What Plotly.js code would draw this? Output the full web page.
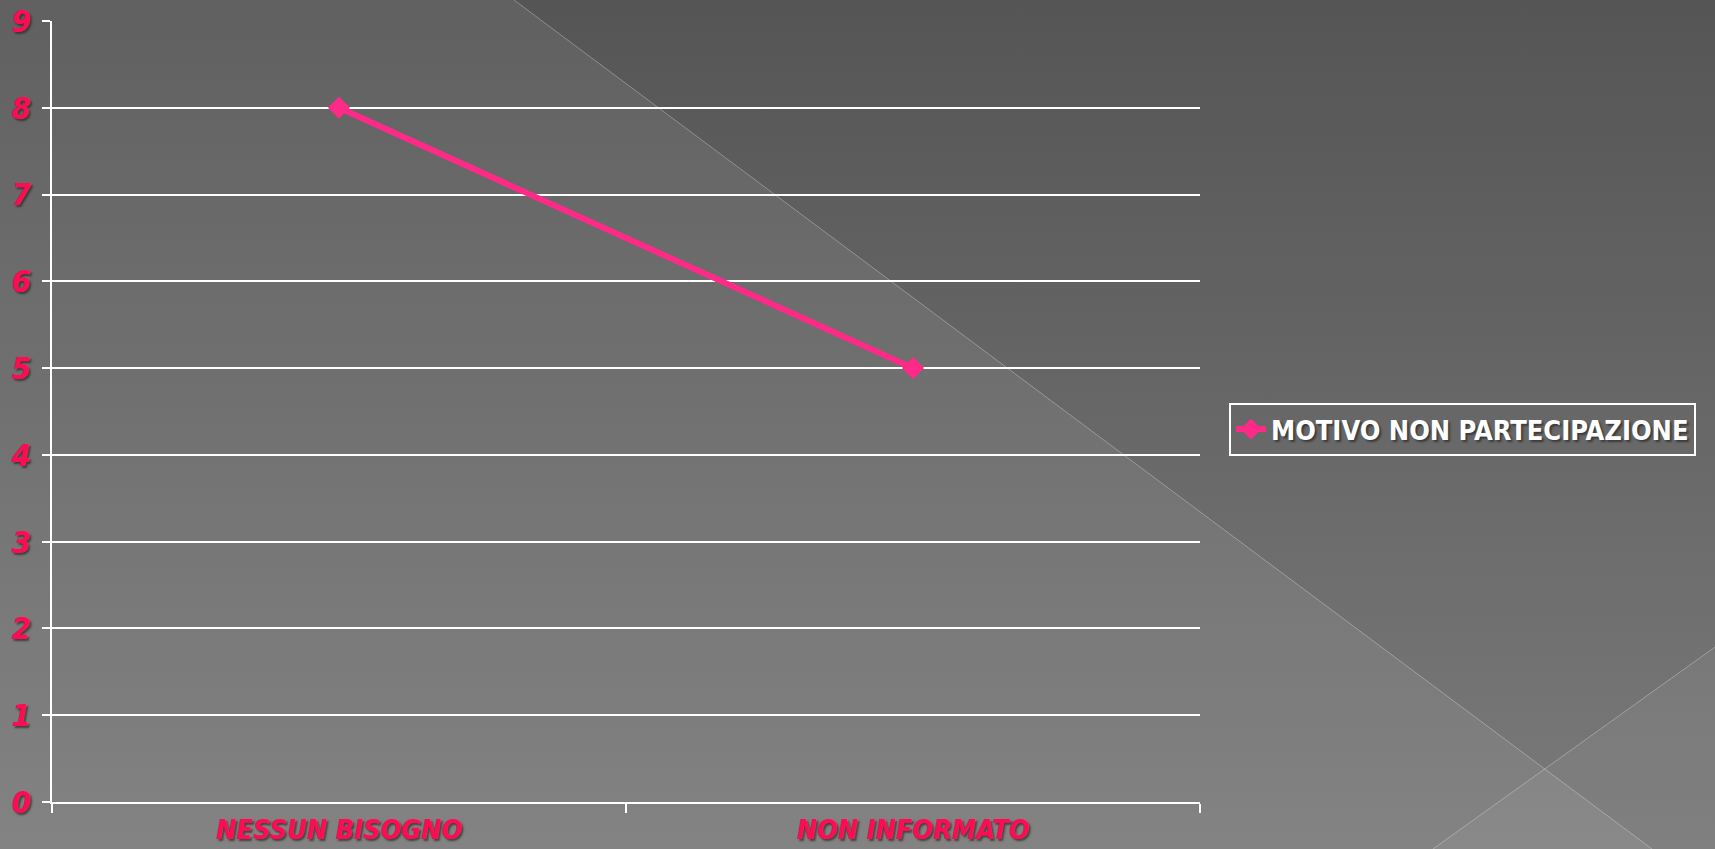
<!DOCTYPE html>
<html>
<head>
<meta charset="utf-8">
<script src="https://cdn.plot.ly/plotly-3.0.1.min.js"></script>
<style>
  html, body { margin: 0; padding: 0; width: 1715px; height: 849px; overflow: hidden; }
  #bg { position: absolute; left: 0; top: 0; }
  #chart { position: absolute; left: 0; top: 0; width: 1715px; height: 849px; }
</style>
</head>
<body>
<svg id="bg" width="1715" height="849" xmlns="http://www.w3.org/2000/svg">
  <defs>
    <linearGradient id="g" x1="0" y1="0" x2="0" y2="1">
      <stop offset="0" stop-color="#555555"/>
      <stop offset="1" stop-color="#7a7a7a"/>
    </linearGradient>
  </defs>
  <rect x="0" y="0" width="1715" height="849" fill="url(#g)"/>
  <polygon points="0,0 514,0 1652,849 0,849" fill="#ffffff" fill-opacity="0.07"/>
  <polygon points="1433,849 1715,647 1715,849" fill="#ffffff" fill-opacity="0.05"/>
  <line x1="514" y1="0" x2="1652" y2="849" stroke="#ffffff" stroke-opacity="0.3" stroke-width="1"/>
  <line x1="1433" y1="849" x2="1715" y2="647" stroke="#ffffff" stroke-opacity="0.3" stroke-width="1"/>
</svg>
<div id="chart"></div>
<script>
const categories = ['NESSUN BISOGNO', 'NON INFORMATO'];
const values = [8, 5];
const seriesName = 'MOTIVO NON PARTECIPAZIONE';

const FONT = "'Liberation Sans Narrow', 'DejaVu Sans Condensed', 'Liberation Sans', Arial, sans-serif";
const pink = '#ff0a55';
const lineColor = '#ff2a88';
const shadow = '2px 2px 2px rgba(40,40,40,0.7)';

const trace = {
  x: categories,
  y: values,
  name: seriesName,
  type: 'scatter',
  mode: 'lines+markers',
  line: { color: lineColor, width: 6 },
  marker: { symbol: 'diamond', size: 17, color: lineColor }
};

const layout = {
  width: 1715,
  height: 849,
  paper_bgcolor: 'rgba(0,0,0,0)',
  plot_bgcolor: 'rgba(0,0,0,0)',
  margin: { l: 52, r: 515, t: 21, b: 47, autoexpand: false },
  showlegend: true,
  legend: {
    xref: 'container', yref: 'container',
    x: 0.7166, xanchor: 'left',
    y: 0.4941, yanchor: 'middle',
    bgcolor: 'rgba(0,0,0,0)',
    bordercolor: '#ffffff',
    borderwidth: 2,
    font: { family: FONT, size: 27, color: '#ffffff', weight: 'bold', shadow: shadow }
  },
  xaxis: {
    type: 'category',
    range: [-0.5, 1.5],
    showgrid: false,
    showline: true, linecolor: '#ffffff', linewidth: 2,
    ticks: 'outside', tickson: 'boundaries', ticklen: 9, tickwidth: 2, tickcolor: '#ffffff',
    tickfont: { family: FONT, size: 27, color: pink, weight: 'bold', style: 'italic', shadow: shadow },
    ticklabelstandoff: 3,
    zeroline: false
  },
  yaxis: {
    range: [0, 9],
    dtick: 1,
    showgrid: true, gridcolor: '#ffffff', gridwidth: 2,
    showline: true, linecolor: '#ffffff', linewidth: 2,
    ticks: 'outside', ticklen: 8, tickwidth: 2, tickcolor: '#ffffff',
    tickfont: { family: FONT, size: 31, color: pink, weight: 'bold', style: 'italic', shadow: shadow },
    ticklabelstandoff: 5,
    zeroline: false
  }
};

Plotly.newPlot('chart', [trace], layout, { displayModeBar: false, staticPlot: true });
</script>
</body>
</html>
